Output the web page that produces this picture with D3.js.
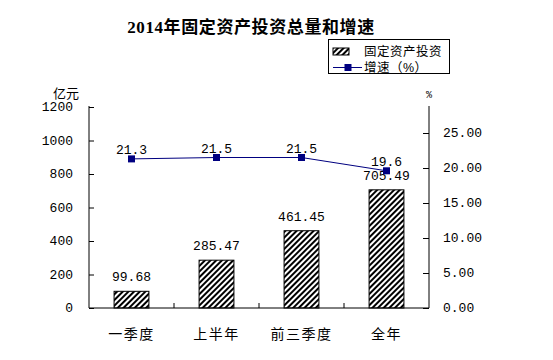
<!DOCTYPE html>
<html><head><meta charset="utf-8">
<script src="https://cdn.jsdelivr.net/npm/d3@7"></script>
<style>body{margin:0;background:#fff}</style>
</head><body>
<svg id="c" width="553" height="360"></svg>
<script>
const categories = ["一季度", "上半年", "前三季度", "全年"];
const investment = [99.68, 285.47, 461.45, 705.49];
const growth = [21.3, 21.5, 21.5, 19.6];
const leftTicks = [0, 200, 400, 600, 800, 1000, 1200];
const rightTicks = [0, 5, 10, 15, 20, 25];
const titleText = "2014年固定资产投资总量和增速";
const legendLabels = ["固定资产投资", "增速（%）"];

const svg = d3.select("#c");
const numFont = "'Liberation Mono', 'DejaVu Sans Mono', monospace";
const cjkFont = "'Noto Sans CJK SC', sans-serif";
const tightFont = "'Liberation Sans', 'Noto Sans CJK SC', sans-serif";

const x = d3.scaleBand().domain(categories).range([89, 429]).paddingInner(0.59).paddingOuter(0.295);
const y = d3.scaleLinear().domain([0, 1200]).range([308, 107]);
const y2 = d3.scaleLinear().domain([0, 25]).range([308, 133]);

const defs = svg.append("defs");
const pat = defs.append("pattern").attr("id", "hatch").attr("patternUnits", "userSpaceOnUse")
  .attr("width", 4).attr("height", 4).attr("patternTransform", "rotate(45)");
pat.append("rect").attr("width", 4).attr("height", 4).attr("fill", "#fff");
pat.append("rect").attr("x", 0).attr("width", 2).attr("height", 4).attr("fill", "#000");

// title
svg.append("text").attr("x", 251).attr("y", 33).attr("text-anchor", "middle")
  .attr("font-family", "'Liberation Serif', 'Noto Sans CJK SC', serif")
  .attr("font-weight", "bold").attr("font-size", 17).attr("letter-spacing", 0.6).text(titleText);

// bars
svg.selectAll("rect.bar").data(categories).enter().append("rect").attr("class", "bar")
  .attr("x", d => x(d)).attr("width", x.bandwidth())
  .attr("y", (d, i) => y(investment[i])).attr("height", (d, i) => y(0) - y(investment[i]))
  .attr("fill", "url(#hatch)").attr("stroke", "#000").attr("stroke-width", 1);

svg.selectAll("text.bl").data(categories).enter().append("text").attr("class", "bl")
  .attr("x", d => x(d) + x.bandwidth() / 2).attr("y", (d, i) => y(investment[i]) - 10)
  .attr("text-anchor", "middle").attr("font-family", numFont).attr("font-size", 13)
  .text((d, i) => investment[i].toFixed(2));

// left axis
const la = svg.append("g").attr("transform", "translate(89,0)")
  .call(d3.axisRight(y).tickValues(leftTicks).tickSize(5).tickFormat(""));
la.select(".domain").remove();
svg.append("line").attr("x1", 89).attr("x2", 89).attr("y1", 106).attr("y2", 308).attr("stroke", "#000");
svg.selectAll("text.lt").data(leftTicks).enter().append("text").attr("class", "lt")
  .attr("x", 73).attr("y", d => y(d) + 4).attr("text-anchor", "end")
  .attr("font-family", numFont).attr("font-size", 13).text(d => d);

// right axis
const ra = svg.append("g").attr("transform", "translate(429,0)")
  .call(d3.axisLeft(y2).tickValues(rightTicks).tickSize(6).tickFormat(""));
ra.select(".domain").remove();
svg.append("line").attr("x1", 429).attr("x2", 429).attr("y1", 106).attr("y2", 308).attr("stroke", "#000");
svg.selectAll("text.rt").data(rightTicks).enter().append("text").attr("class", "rt")
  .attr("x", 443).attr("y", d => y2(d) + 4).attr("text-anchor", "start")
  .attr("font-family", numFont).attr("font-size", 13).text(d => d3.format(".2f")(d));

// bottom axis
svg.append("line").attr("x1", 89).attr("x2", 429).attr("y1", 308).attr("y2", 308).attr("stroke", "#000");
const bounds = categories.slice(1).map(c => x(c) - x.step() * x.paddingInner() / 2);
svg.selectAll("line.bt").data(bounds).enter().append("line").attr("class", "bt")
  .attr("x1", d => d).attr("x2", d => d).attr("y1", 308).attr("y2", 303).attr("stroke", "#000");
svg.selectAll("text.cat").data(categories).enter().append("text").attr("class", "cat")
  .attr("x", d => x(d) + x.bandwidth() / 2).attr("y", 339).attr("text-anchor", "middle")
  .attr("font-family", cjkFont).attr("font-size", 14).attr("letter-spacing", 1.5).text(d => d);

// unit labels
svg.append("text").attr("x", 66).attr("y", 98).attr("text-anchor", "middle")
  .attr("font-family", tightFont).attr("font-size", 13).text("亿元");
svg.append("text").attr("x", 429).attr("y", 98).attr("text-anchor", "middle")
  .attr("font-family", numFont).attr("font-size", 10).text("%");

// line
const cx = d => x(d) + x.bandwidth() / 2;
const line = d3.line().x(d => cx(d)).y((d, i) => y2(growth[i]));
svg.append("path").datum(categories).attr("d", line).attr("fill", "none")
  .attr("stroke", "#000080").attr("stroke-width", 1);
svg.selectAll("rect.mk").data(categories).enter().append("rect").attr("class", "mk")
  .attr("x", d => cx(d) - 3.5).attr("y", (d, i) => y2(growth[i]) - 3.5)
  .attr("width", 7).attr("height", 7).attr("fill", "#000080");
svg.selectAll("text.gl").data(categories).enter().append("text").attr("class", "gl")
  .attr("x", d => cx(d)).attr("y", (d, i) => y2(growth[i]) - 5)
  .attr("text-anchor", "middle").attr("font-family", numFont).attr("font-size", 13)
  .text((d, i) => growth[i].toFixed(1));

// legend
svg.append("rect").attr("x", 328.5).attr("y", 39.5).attr("width", 121).attr("height", 34)
  .attr("fill", "#fff").attr("stroke", "#000");
svg.append("rect").attr("x", 333).attr("y", 48).attr("width", 16).attr("height", 7)
  .attr("fill", "url(#hatch)").attr("stroke", "#000");
svg.append("text").attr("x", 364).attr("y", 56).attr("font-family", tightFont).attr("font-size", 12.5)
  .attr("letter-spacing", 0.5).text(legendLabels[0]);
svg.append("line").attr("x1", 333).attr("x2", 362).attr("y1", 67.5).attr("y2", 67.5).attr("stroke", "#000080");
svg.append("rect").attr("x", 344.5).attr("y", 64).attr("width", 7).attr("height", 7).attr("fill", "#000080");
svg.append("text").attr("x", 364).attr("y", 72).attr("font-family", tightFont).attr("font-size", 12.5)
  .attr("letter-spacing", 0.5).text(legendLabels[1]);
</script>
</body></html>
